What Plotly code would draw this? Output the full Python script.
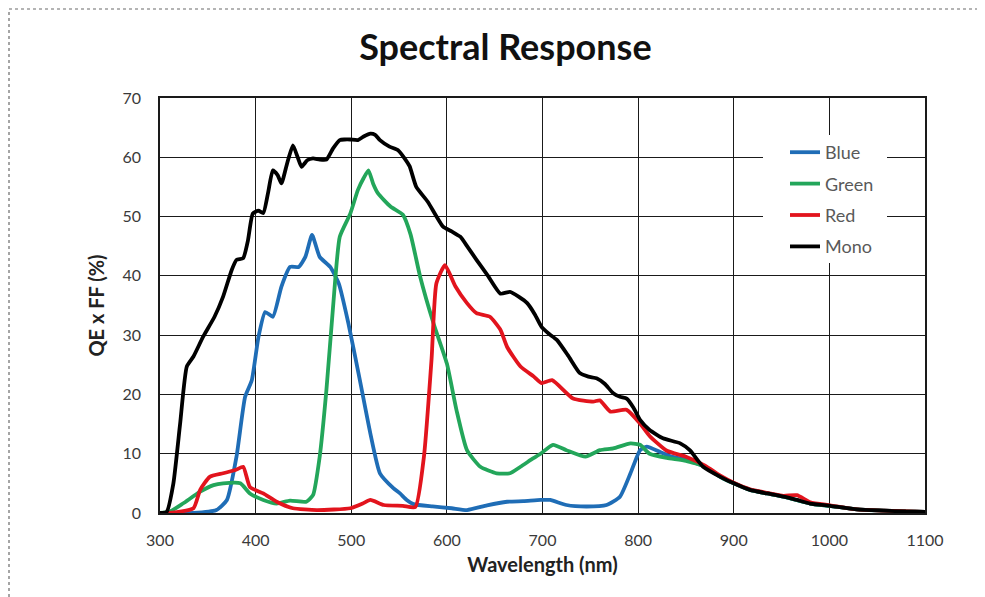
import plotly.graph_objects as go

# ---------------- data ----------------
wl_mono = [300, 307, 314, 321, 328, 335, 345, 357, 366, 375, 380, 387, 392, 397, 403, 408, 413, 418,
           423, 427, 433, 439, 444, 448, 454, 460, 467, 474, 481, 488, 493, 499, 507, 513, 520, 525,
           530, 540, 549, 555, 561, 568, 580, 596, 605, 614, 622, 631, 643, 656, 666, 675, 684, 692,
           699, 707, 715, 727, 739, 748, 757, 765, 774, 781, 788, 795, 802, 812, 826, 844, 854, 868,
           886, 900, 917, 935, 952, 966, 980, 1001, 1029, 1057, 1080, 1100]
qe_mono = [0, 0.2, 5, 15, 24.7, 26.4, 29.7, 33.1, 36.5, 41, 42.7, 43, 46, 50.5, 51, 50.6, 54, 57.8,
           57, 55.6, 59, 62, 60, 58.4, 59.5, 59.8, 59.6, 59.6, 61.5, 62.9, 63, 63, 62.9, 63.5, 64, 63.8,
           62.9, 61.8, 61.2, 60, 58.5, 55, 52.5, 48.3, 47.5, 46.6, 44.8, 42.7, 40, 37, 37.3, 36.5, 35.4, 33.5,
           31.4, 30.2, 29.2, 26.5, 23.6, 23, 22.7, 21.8, 20.2, 19.6, 19.3, 17.8, 15.7, 14, 12.6, 11.75, 10.6, 7.8,
           6.1, 5, 3.9, 3.3, 2.75, 2.2, 1.6, 1.2, 0.6, 0.4, 0.25, 0.2]

wl_blue = [300, 335, 359, 370, 380, 389, 396, 403, 410, 418, 427, 436, 445, 452, 459, 467, 478, 487,
           497, 509, 520, 530, 544, 551, 558, 565, 585, 605, 621, 642, 663, 680, 698, 708, 725, 746,
           767, 781, 792, 802, 809, 823, 835, 850, 870, 886, 900, 917, 935, 952, 980, 1001, 1029, 1057, 1100]
qe_blue = [0, 0, 0.5, 2.2, 9.5, 19.6, 22.4, 29.7, 33.9, 33.1, 38.2, 41.5, 41.5, 43.2, 46.9, 43.2, 41.5, 38.7,
           32, 22.4, 13.4, 6.7, 4.2, 3.3, 2.2, 1.5, 1.1, 0.8, 0.5, 1.3, 1.9, 2, 2.2, 2.2, 1.35, 1.1,
           1.35, 2.75, 6.7, 10.6, 11.2, 10.3, 9.5, 9, 7.8, 6.1, 5, 3.9, 3.3, 2.75, 1.6, 1.2, 0.6, 0.4, 0.2]

wl_green = [300, 310, 324, 342, 356, 366, 384, 394, 408, 422, 436, 453, 460, 467, 474, 481, 488, 499,
            507, 513, 518, 523, 528, 541, 554, 562, 572, 586, 600, 610, 621, 635, 652, 666, 677, 690,
            698, 711, 725, 745, 760, 774, 792, 802, 812, 830, 850, 870, 886, 900, 917, 935, 952, 980,
            1001, 1029, 1057, 1100]
qe_green = [0, 0.2, 1.6, 3.6, 4.7, 5, 5, 3.3, 2.2, 1.6, 2.1, 1.9, 3, 9.5, 20.7, 34.8, 46.6, 50.5,
            54.5, 56.5, 57.8, 55.5, 53.9, 51.7, 50.3, 47, 39.9, 32, 25.2, 17.4, 10.6, 7.8, 6.7, 6.7, 7.8, 9.2,
            10, 11.5, 10.6, 9.5, 10.6, 10.9, 11.75, 11.5, 10, 9.3, 8.8, 7.8, 6.1, 5, 3.9, 3.3, 2.75, 1.6,
            1.2, 0.6, 0.4, 0.2]

wl_red = [300, 310, 335, 342, 352, 366, 379, 387, 394, 408, 422, 439, 464, 499, 512, 520, 534, 554,
          567, 576, 584, 589, 598, 609, 621, 631, 645, 656, 663, 677, 691, 699, 710, 732, 753, 760,
          771, 788, 802, 812, 830, 850, 870, 886, 900, 917, 935, 952, 966, 980, 1001, 1029, 1057, 1100]
qe_red = [0, 0, 0.8, 3.9, 6.1, 6.7, 7.25, 7.8, 4.4, 3.3, 1.9, 0.8, 0.5, 0.8, 1.6, 2.2, 1.35, 1.2,
          1, 9.5, 26, 38.7, 41.8, 38.2, 35.4, 33.7, 33.1, 30.9, 28, 24.7, 23, 21.9, 22.4, 19.3, 18.8, 19,
          17.1, 17.4, 15.1, 13, 10.5, 9.5, 8, 6.3, 5.1, 4, 3.4, 2.9, 3, 1.8, 1.3, 0.6, 0.4, 0.2]

x_ticks = [300, 400, 500, 600, 700, 800, 900, 1000, 1100]
y_ticks = [0, 10, 20, 30, 40, 50, 60, 70]

series = [
    ("Blue", wl_blue, qe_blue, "#1f6db6"),
    ("Green", wl_green, qe_green, "#23a65a"),
    ("Red", wl_red, qe_red, "#e2141d"),
    ("Mono", wl_mono, qe_mono, "#000000"),
]

FONT = "Lato"

fig = go.Figure()
for name, xs, ys, col in series:
    fig.add_trace(go.Scatter(
        x=xs, y=ys, name=name, mode="lines", legendgroup=name,
        line=dict(color=col, width=3.8, shape="spline", smoothing=0.5),
    ))

# page body adds an 8px offset; work in screen pixels and convert
OFF = 8
W, H = 985, 597
L, R, T, B = 160 - OFF, W - (925 - OFF), 98 - OFF, H - (513 - OFF)
pw, ph = W - L - R, H - T - B


def px2paper_x(px):
    return (px - OFF - L) / pw


def px2paper_y(py):
    return (H - B - (py - OFF)) / ph


fig.update_layout(
    width=W, height=H,
    margin=dict(l=L, r=R, t=T, b=B, autoexpand=False),
    paper_bgcolor="white", plot_bgcolor="white",
    font=dict(family=FONT, color="#333333", size=15),
    title=dict(text="<b>Spectral Response</b>", x=0.505, xanchor="center",
               y=1 - (47 - OFF) / H, yanchor="middle",
               font=dict(family=FONT, size=36, color="#111111")),
    showlegend=True,
    legend=dict(x=px2paper_x(785), y=px2paper_y(134), xanchor="left", yanchor="top",
                bgcolor="rgba(255,255,255,0)", borderwidth=0, tracegroupgap=5,
                font=dict(family=FONT, size=18, color="#595959")),
    xaxis=dict(range=[300, 1100], tickvals=x_ticks, ticktext=[str(v) for v in x_ticks],
               showgrid=True, gridcolor="#1a1a1a", gridwidth=1.2,
               showline=True, linecolor="#1a1a1a", linewidth=1.5, mirror=True,
               ticks="", zeroline=False, ticklabelstandoff=12,
               tickfont=dict(family=FONT, size=16, color="#3a3a3a"),
               title=dict(text="<b>Wavelength (nm)</b>", standoff=10,
                          font=dict(family=FONT, size=20, color="#222222"))),
    yaxis=dict(range=[0, 70], tickvals=y_ticks, ticktext=[str(v) for v in y_ticks],
               showgrid=True, gridcolor="#1a1a1a", gridwidth=1.2,
               showline=True, linecolor="#1a1a1a", linewidth=1.5, mirror=True,
               ticks="", zeroline=False, ticklabelstandoff=14,
               tickfont=dict(family=FONT, size=16, color="#3a3a3a"),
               title=dict(text="<b>QE x FF (%)</b>", standoff=12,
                          font=dict(family=FONT, size=20, color="#222222"))),
    shapes=[
        # white backing of the legend box (hides grid lines)
        dict(type="rect", xref="paper", yref="paper",
             x0=px2paper_x(763), x1=px2paper_x(887), y0=px2paper_y(263), y1=px2paper_y(135),
             fillcolor="white", line=dict(width=0), layer="above"),
        # dotted page border
        dict(type="rect", xref="paper", yref="paper",
             x0=px2paper_x(9), x1=px2paper_x(1010), y0=px2paper_y(620), y1=px2paper_y(9),
             fillcolor="rgba(0,0,0,0)", line=dict(color="#6a6a6a", width=1.2, dash="dot"),
             layer="above"),
    ],
)

fig.write_html("out.html")
